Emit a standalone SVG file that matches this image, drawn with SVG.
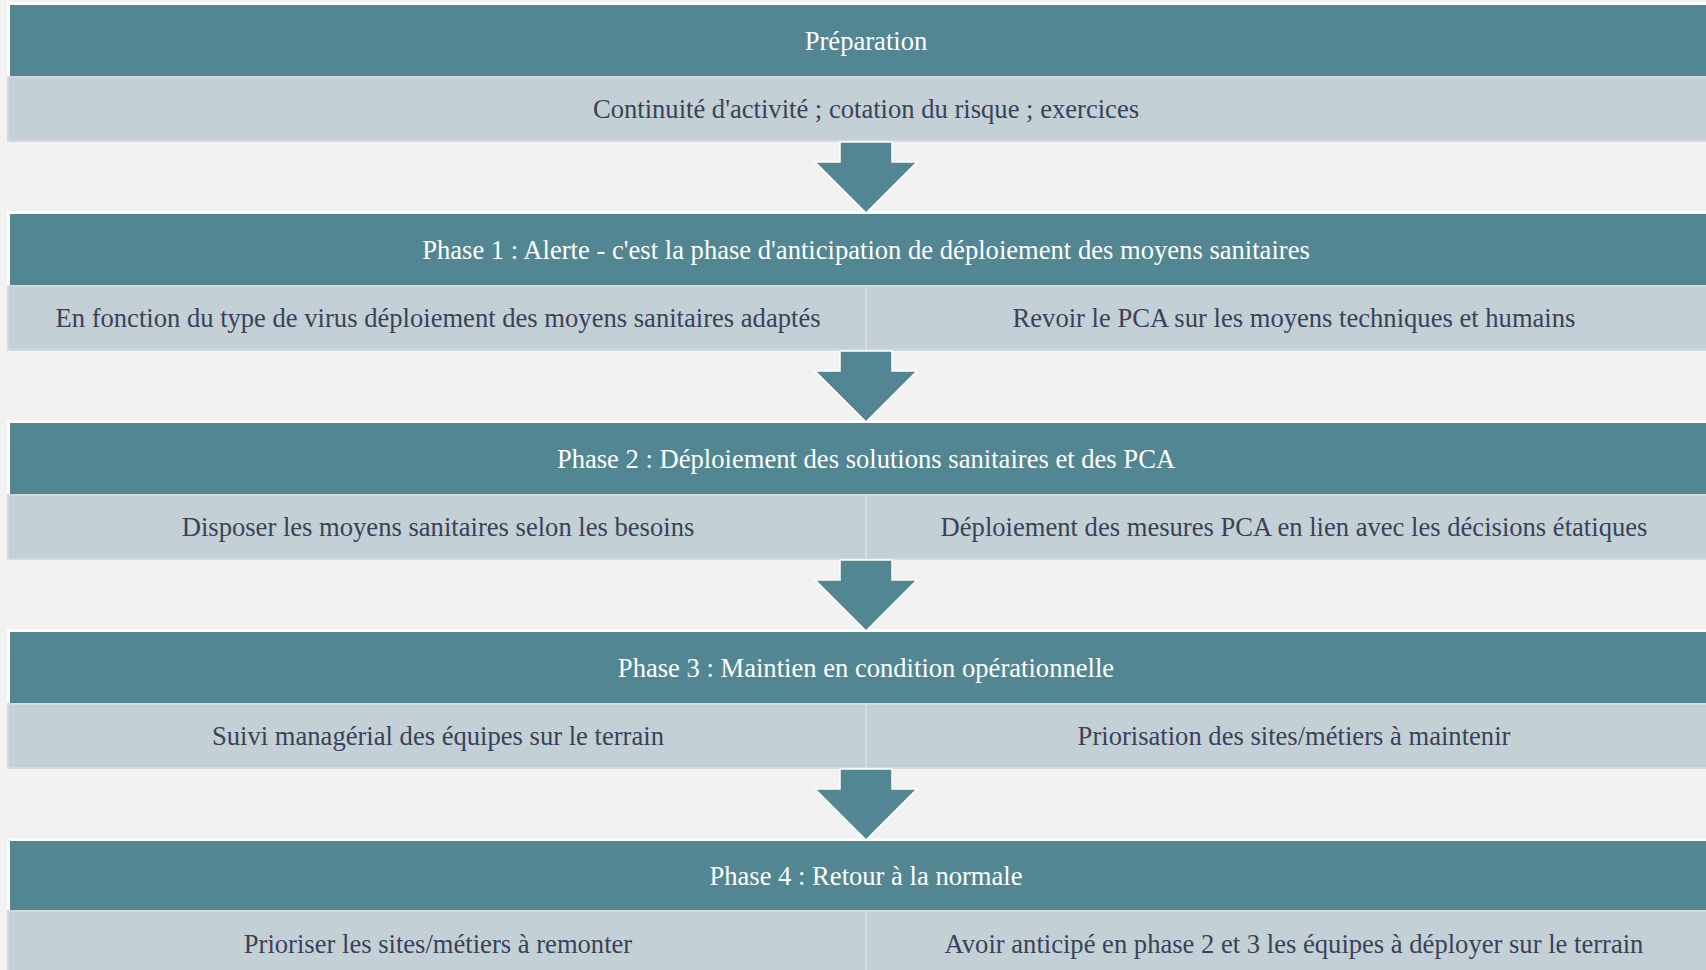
<svg xmlns="http://www.w3.org/2000/svg" width="1706" height="970" viewBox="0 0 1706 970">
<defs>
<style>
.hdrbg{fill:#ffffff;}
.hdr{fill:#528692;}
.row{fill:#c3d0d5;stroke:#d2dadd;stroke-width:2;}
.div{stroke:#d4dcdf;stroke-width:2;}
.arrow{fill:#528692;stroke:#ffffff;stroke-width:1.5;stroke-linejoin:miter;}
text{font-family:'Liberation Serif','Times New Roman',Times,serif;font-size:26.6px;text-anchor:middle;}
.ht{fill:#ffffff;}
.rt{fill:#3a4259;}
</style>
</defs>
<rect x="0" y="0" width="1706" height="970" fill="#f2f2f2"/>

<g id="preparation">
<rect class="hdrbg" x="7" y="2" width="1720" height="75"/>
<rect class="hdr" x="10" y="5" width="1720" height="71"/>
<rect class="row" x="8" y="77" width="1720" height="64"/>
<text class="ht" x="866" y="49.5">Préparation</text>
<text class="rt" x="866" y="117.5">Continuité d'activité ; cotation du risque ; exercices</text>
</g>

<g id="phase1">
<rect class="hdrbg" x="7" y="211" width="1720" height="75"/>
<rect class="hdr" x="10" y="214" width="1720" height="71"/>
<rect class="row" x="8" y="286" width="1720" height="64"/>
<line class="div" x1="866" y1="286" x2="866" y2="350"/>
<text class="ht" x="866" y="258.5">Phase 1 : Alerte - c'est la phase d'anticipation de déploiement des moyens sanitaires</text>
<text class="rt" x="438" y="326.5">En fonction du type de virus déploiement des moyens sanitaires adaptés</text>
<text class="rt" x="1294" y="326.5">Revoir le PCA sur les moyens techniques et humains</text>
</g>

<g id="phase2">
<rect class="hdrbg" x="7" y="420" width="1720" height="75"/>
<rect class="hdr" x="10" y="423" width="1720" height="71"/>
<rect class="row" x="8" y="495" width="1720" height="64"/>
<line class="div" x1="866" y1="495" x2="866" y2="559"/>
<text class="ht" x="866" y="467.5">Phase 2 : Déploiement des solutions sanitaires et des PCA</text>
<text class="rt" x="438" y="535.5">Disposer les moyens sanitaires selon les besoins</text>
<text class="rt" x="1294" y="535.5">Déploiement des mesures PCA en lien avec les décisions étatiques</text>
</g>

<g id="phase3">
<rect class="hdrbg" x="7" y="629" width="1720" height="75"/>
<rect class="hdr" x="10" y="632" width="1720" height="71"/>
<rect class="row" x="8" y="704" width="1720" height="64"/>
<line class="div" x1="866" y1="704" x2="866" y2="768"/>
<text class="ht" x="866" y="676.5">Phase 3 : Maintien en condition opérationnelle</text>
<text class="rt" x="438" y="744.5">Suivi managérial des équipes sur le terrain</text>
<text class="rt" x="1294" y="744.5">Priorisation des sites/métiers à maintenir</text>
</g>

<g id="phase4">
<rect class="hdrbg" x="7" y="838" width="1720" height="73"/>
<rect class="hdr" x="10" y="841" width="1720" height="69"/>
<rect class="row" x="8" y="911" width="1720" height="64"/>
<line class="div" x1="866" y1="911" x2="866" y2="975"/>
<text class="ht" x="866" y="884.5">Phase 4 : Retour à la normale</text>
<text class="rt" x="438" y="952.5">Prioriser les sites/métiers à remonter</text>
<text class="rt" x="1294" y="952.5">Avoir anticipé en phase 2 et 3 les équipes à déployer sur le terrain</text>
</g>

<g id="connectors">
<polygon class="arrow" points="840,142 892,142 892,162 917,162 866,213 815,162 840,162"/>
<polygon class="arrow" points="840,351 892,351 892,371 917,371 866,422 815,371 840,371"/>
<polygon class="arrow" points="840,560 892,560 892,580 917,580 866,631 815,580 840,580"/>
<polygon class="arrow" points="840,769 892,769 892,789 917,789 866,840 815,789 840,789"/>
</g>
</svg>
